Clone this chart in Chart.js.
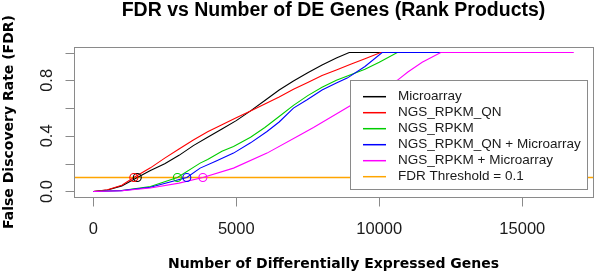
<!DOCTYPE html>
<html>
<head>
<meta charset="utf-8">
<script src="https://cdn.jsdelivr.net/npm/chart.js@4.4.0/dist/chart.umd.min.js"></script>
<style>
  html, body { margin: 0; padding: 0; background: #fff; }
  #wrap { width: 600px; height: 278px; position: relative; }
</style>
</head>
<body>
<div id="wrap"><canvas id="c"></canvas></div>
<script>
// series values
const microarrayX = [0, 500, 1000, 1540, 2000, 2500, 3000, 3500, 4000, 4500, 5000, 5500, 6000, 6500, 7000, 7500, 8000, 8500, 8950, 10500];
const microarrayY = [0, 0.01, 0.04, 0.1, 0.15, 0.2, 0.26, 0.33, 0.39, 0.45, 0.51, 0.58, 0.655, 0.73, 0.795, 0.855, 0.91, 0.96, 1.0, 1.0];

const qnX = [0, 500, 1000, 1420, 2000, 2500, 3000, 3500, 4000, 4500, 5000, 5500, 6000, 6500, 7000, 7500, 8000, 8500, 9000, 9500, 10050, 11000];
const qnY = [0, 0.012, 0.045, 0.1, 0.17, 0.24, 0.305, 0.37, 0.43, 0.48, 0.53, 0.58, 0.63, 0.68, 0.735, 0.785, 0.835, 0.875, 0.915, 0.955, 1.0, 1.0];

const rpkmX = [0, 1000, 2000, 2943, 3738, 4000, 4500, 4905, 5500, 6000, 6500, 7000, 7500, 8000, 8500, 9000, 9500, 10000, 10630, 11500];
const rpkmY = [0, 0.007, 0.035, 0.1, 0.204, 0.23, 0.29, 0.324, 0.39, 0.46, 0.54, 0.62, 0.69, 0.75, 0.8, 0.84, 0.88, 0.93, 1.0, 1.0];

const qnMicroX = [0, 1000, 2000, 3272, 3738, 4300, 4905, 5500, 6076, 6500, 7000, 7477, 8000, 8500, 8878, 9500, 10100, 12500];
const qnMicroY = [0, 0.006, 0.03, 0.1, 0.168, 0.22, 0.276, 0.35, 0.432, 0.5, 0.6, 0.66, 0.73, 0.78, 0.816, 0.9, 1.0, 1.0];

const rpkmMicroX = [0, 1000, 2000, 3000, 3833, 4905, 6076, 7243, 7700, 8645, 9500, 10000, 10630, 11000, 11500, 12150, 16800];
const rpkmMicroY = [0, 0.005, 0.025, 0.06, 0.1, 0.168, 0.276, 0.408, 0.46, 0.576, 0.68, 0.74, 0.8, 0.86, 0.93, 1.0, 1.0];

// where each curve crosses FDR = 0.1
const crossX = [1540, 1420, 2943, 3272, 3833];
const threshold = 0.1;

const seriesLabels = ['Microarray', 'NGS_RPKM_QN', 'NGS_RPKM', 'NGS_RPKM_QN + Microarray', 'NGS_RPKM + Microarray', 'FDR Threshold = 0.1'];
const seriesColors = ['#000000', '#ff0000', '#00cd00', '#0000ff', '#ff00ff', '#ffa500'];

const xTicks = [0, 5000, 10000, 15000];
const yTicks = [0, 0.2, 0.4, 0.6, 0.8, 1.0];
const yTickLabels = [0, 0.4, 0.8];

const xMin = -672, xMax = 17472;
const yMin = -0.04, yMax = 1.04;

const pts = (xs, ys) => xs.map((x, i) => ({ x: x, y: ys[i] }));

const curves = [
  pts(microarrayX, microarrayY),
  pts(qnX, qnY),
  pts(rpkmX, rpkmY),
  pts(qnMicroX, qnMicroY),
  pts(rpkmMicroX, rpkmMicroY)
];

const datasets = curves.map((d, i) => ({
  label: seriesLabels[i],
  data: d,
  showLine: true,
  borderColor: seriesColors[i],
  borderWidth: 1.1,
  pointRadius: 0,
  order: 6 - i
}));

datasets.push({
  label: seriesLabels[5],
  data: [{ x: xMin, y: threshold }, { x: xMax, y: threshold }],
  showLine: true,
  borderColor: seriesColors[5],
  borderWidth: 1.6,
  pointRadius: 0,
  order: 8
});

datasets.push({
  label: 'cross',
  data: crossX.map(x => ({ x: x, y: threshold })),
  showLine: false,
  pointRadius: 4,
  pointBorderWidth: 1.1,
  pointBorderColor: seriesColors.slice(0, 5),
  pointBackgroundColor: 'rgba(0,0,0,0)',
  order: 0
});

const fg = '#1a1a1a';
const axisGray = '#8a8a8a';

// R-style box, axes, titles and legend
const rAxes = {
  id: 'rAxes',
  afterDraw(chart) {
    const ctx = chart.ctx;
    const a = chart.chartArea;
    const xs = chart.scales.x, ys = chart.scales.y;
    ctx.save();
    ctx.strokeStyle = axisGray;
    ctx.lineWidth = 1;
    ctx.strokeRect(Math.round(a.left) + 0.5, Math.round(a.top) + 0.5, Math.round(a.right - a.left), Math.round(a.bottom - a.top));

    // x axis
    const xb = Math.round(a.bottom) + 0.5;
    ctx.beginPath();
    xTicks.forEach(v => {
      const px = Math.round(xs.getPixelForValue(v)) + 0.5;
      ctx.moveTo(px, xb);
      ctx.lineTo(px, xb + 9);
    });
    ctx.stroke();
    ctx.fillStyle = fg;
    ctx.font = '16.5px "Liberation Sans", Arial, sans-serif';
    ctx.textAlign = 'center';
    ctx.textBaseline = 'middle';
    xTicks.forEach(v => ctx.fillText(String(v), xs.getPixelForValue(v), a.bottom + 32));

    // y axis
    const yl = Math.round(a.left) + 0.5;
    ctx.beginPath();
    yTicks.forEach(v => {
      const py = Math.round(ys.getPixelForValue(v)) + 0.5;
      ctx.moveTo(yl, py);
      ctx.lineTo(yl - 9, py);
    });
    ctx.stroke();
    yTickLabels.forEach(v => {
      ctx.save();
      ctx.translate(a.left - 27, ys.getPixelForValue(v));
      ctx.rotate(-Math.PI / 2);
      ctx.fillText(v.toFixed(1), 0, 0);
      ctx.restore();
    });

    // titles
    ctx.font = 'bold 19.5px "Liberation Sans", Arial, sans-serif';
    ctx.fillStyle = '#000';
    ctx.fillText('FDR vs Number of DE Genes (Rank Products)', (a.left + a.right) / 2, 11);
    ctx.font = 'bold 14px "DejaVu Sans", sans-serif';
    ctx.fillText('Number of Differentially Expressed Genes', (a.left + a.right) / 2, 264);
    ctx.save();
    ctx.translate(9, (a.top + a.bottom) / 2);
    ctx.rotate(-Math.PI / 2);
    ctx.fillText('False Discovery Rate (FDR)', 0, 0);
    ctx.restore();

    // legend
    const lx = 350, ly = 80, lw = 237, lh = 109;
    ctx.fillStyle = '#fff';
    ctx.fillRect(lx, ly, lw, lh);
    ctx.strokeStyle = axisGray;
    ctx.lineWidth = 1;
    ctx.strokeRect(lx + 0.5, ly + 0.5, lw, lh);
    ctx.font = '13.5px "Liberation Sans", Arial, sans-serif';
    ctx.textAlign = 'left';
    ctx.lineWidth = 1.5;
    seriesLabels.forEach((lab, i) => {
      const y = ly + 16.7 + i * 16;
      ctx.strokeStyle = seriesColors[i];
      ctx.beginPath();
      ctx.moveTo(363, y);
      ctx.lineTo(386, y);
      ctx.stroke();
      ctx.fillStyle = fg;
      ctx.fillText(lab, 398, y);
    });
    ctx.restore();
  }
};

new Chart(document.getElementById('c'), {
  type: 'scatter',
  data: { datasets: datasets },
  options: {
    responsive: true,
    maintainAspectRatio: false,
    animation: false,
    layout: { padding: { left: 74, top: 47, right: 7, bottom: 81 } },
    plugins: {
      legend: { display: false },
      tooltip: { enabled: false },
      title: { display: false }
    },
    scales: {
      x: { type: 'linear', min: xMin, max: xMax, display: false },
      y: { type: 'linear', min: yMin, max: yMax, display: false }
    }
  },
  plugins: [rAxes]
});
</script>
</body>
</html>
